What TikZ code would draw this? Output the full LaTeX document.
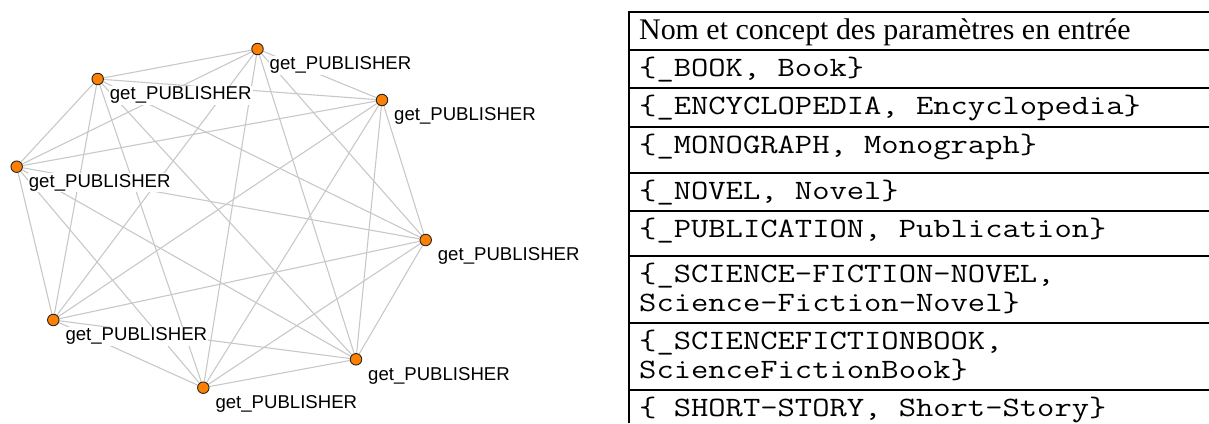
\documentclass[tikz,border=0pt]{standalone}
\usepackage{fontspec}
\setmainfont{Liberation Serif}
\newfontfamily\gsans{Liberation Sans}
\newfontfamily\gmono[FakeStretch=1.2]{Latin Modern Mono}
\usetikzlibrary{backgrounds}
\definecolor{vorange}{RGB}{255,128,0}
\definecolor{egray}{RGB}{200,200,200}
\begin{document}
\begin{tikzpicture}[x=1pt,y=-1pt,
  vtx/.style={circle,fill=vorange,draw=black!85,line width=0.9pt,inner sep=0pt,minimum size=11.5pt},
  lbl/.style={anchor=base west,inner sep=1pt,fill=white,font=\gsans\fontsize{18.6}{20}\selectfont},
  edge/.style={draw=egray,line width=1.1pt},
  hdr/.style={anchor=base west,inner sep=0pt,font=\fontsize{29.9}{32}\selectfont},
  cell/.style={anchor=base west,inner sep=0pt,font=\gmono\fontsize{28}{30}\selectfont},
  rulel/.style={line width=2.2pt}]
\useasboundingbox (0,0) rectangle (1209,423);
% vertices
\node[vtx] (n1) at (257.5,49) {};
\node[vtx] (n2) at (97.7,79) {};
\node[vtx] (n3) at (382,100) {};
\node[vtx] (n4) at (16.7,166.7) {};
\node[vtx] (n5) at (425.7,240) {};
\node[vtx] (n6) at (53.3,320) {};
\node[vtx] (n7) at (356,359.3) {};
\node[vtx] (n8) at (203.3,387.7) {};
% labels
\foreach \i in {1,...,8}{
  \path (n\i) ++(11,20.7) node[lbl] (l\i) {get\_PUBLISHER};
}
% edges
\begin{pgfonlayer}{background}
\foreach \a/\b in {1/2,1/3,1/4,1/5,1/6,1/7,1/8,
                   2/3,2/4,2/5,2/6,2/7,2/8,
                   3/4,3/5,3/6,3/7,3/8,
                   4/5,4/6,4/7,4/8,
                   5/6,5/7,5/8,
                   6/7,6/8,
                   7/8}{
  \draw[edge] (n\a) -- (n\b);
}
\end{pgfonlayer}
% table rules
\coordinate (tl) at (629,12);
\coordinate (bl) at (629,423);
\draw[rulel] (tl) -- (bl);
\foreach \y in {12,50,88,127,173,211,256,323,390}{
  \draw[rulel] (628,\y) -- (1209,\y);
}
% table texts
\node[hdr] (h0) at (639,39.3) {Nom et concept des paramètres en entrée};
\node[cell] (r1) at (639,76) {\{\_BOOK, Book\}};
\node[cell] (r2) at (639,114) {\{\_ENCYCLOPEDIA, Encyclopedia\}};
\node[cell] (r3) at (639,153) {\{\_MONOGRAPH, Monograph\}};
\node[cell] (r4) at (639,199) {\{\_NOVEL, Novel\}};
\node[cell] (r5) at (639,237) {\{\_PUBLICATION, Publication\}};
\node[cell] (r6a) at (639,282) {\{\_SCIENCE-FICTION-NOVEL,};
\node[cell] (r6b) at (639,311) {Science-Fiction-Novel\}};
\node[cell] (r7a) at (639,349) {\{\_SCIENCEFICTIONBOOK,};
\node[cell] (r7b) at (639,378) {ScienceFictionBook\}};
\node[cell] (r8) at (639,416) {\{ SHORT-STORY, Short-Story\}};
\end{tikzpicture}
\end{document}
